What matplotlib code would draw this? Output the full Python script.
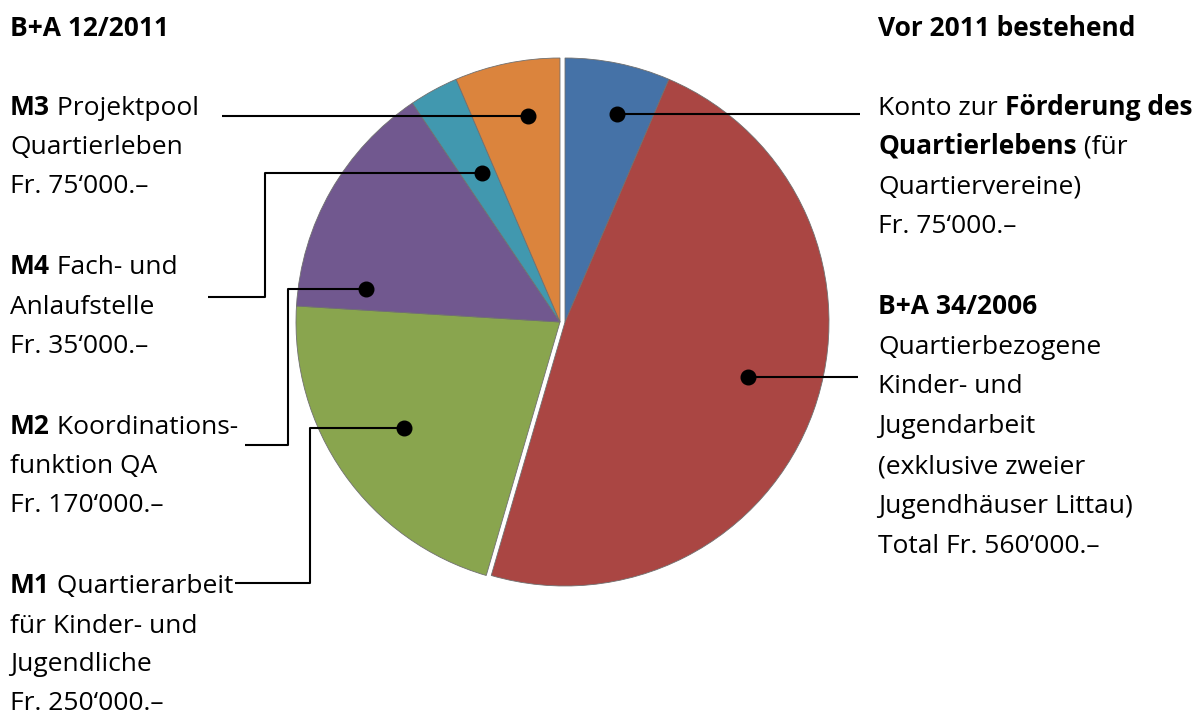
import matplotlib.pyplot as plt

W, H = 1199, 718
plt.rcParams['font.family'] = ['Open Sans', 'DejaVu Sans']
FS = 19

# budget items, clockwise from 12 o'clock
items = ["Konto Förderung Quartierleben", "B+A 34/2006", "M1", "M2", "M4", "M3"]
values = [75000, 560000, 250000, 170000, 35000, 75000]
colors = ["#4572A7", "#AA4643", "#89A54E", "#71588F", "#4198AF", "#DB843D"]
existing = [True, True, False, False, False, False]  # "Vor 2011 bestehend"

# leader lines (pixel coords, y from top), dot at the first point
leaders = [
    [(617, 114), (860, 114)],
    [(748, 377), (858, 377)],
    [(404, 428), (310, 428), (310, 583), (235, 583)],
    [(366, 289), (288, 289), (288, 445), (245, 445)],
    [(482, 173), (265, 173), (265, 297), (208, 297)],
    [(528, 116), (222, 116)],
]

# text lines: x, baseline y (from top), pieces (text, bold)
left_lines = [
    (10, 36, [("B+A 12/2011", True)]),
    (10, 115, [("M3", True), (" Projektpool", False)]),
    (10, 154, [("Quartierleben", False)]),
    (10, 193, [("Fr. 75‘000.–", False)]),
    (10, 274, [("M4", True), (" Fach- und", False)]),
    (10, 314, [("Anlaufstelle", False)]),
    (10, 353, [("Fr. 35‘000.–", False)]),
    (10, 434, [("M2", True), (" Koordinations-", False)]),
    (10, 473, [("funktion QA", False)]),
    (10, 512, [("Fr. 170‘000.–", False)]),
    (10, 593, [("M1", True), (" Quartierarbeit", False)]),
    (10, 633, [("für Kinder- und", False)]),
    (10, 671, [("Jugendliche", False)]),
    (10, 710, [("Fr. 250‘000.–", False)]),
]
right_lines = [
    (878, 36, [("Vor 2011 bestehend", True)]),
    (878, 115, [("Konto zur ", False), ("Förderung des", True)]),
    (878, 154, [("Quartierlebens", True), (" (für", False)]),
    (878, 193, [("Quartiervereine)", False)]),
    (878, 233, [("Fr. 75‘000.–", False)]),
    (878, 314, [("B+A 34/2006", True)]),
    (878, 354, [("Quartierbezogene", False)]),
    (878, 393, [("Kinder- und", False)]),
    (878, 433, [("Jugendarbeit", False)]),
    (878, 473, [("(exklusive zweier", False)]),
    (878, 513, [("Jugendhäuser Littau)", False)]),
    (878, 553, [("Total Fr. 560‘000.–", False)]),
]

fig = plt.figure(figsize=(W / 100, H / 100), dpi=100)
ax = fig.add_axes([0, 0, 1, 1])

wedges, _ = ax.pie(values, colors=colors, startangle=90, counterclock=False,
                   center=(560, H - 322), radius=264,
                   wedgeprops=dict(edgecolor='#707070', linewidth=0.6))
# the existing items are pulled slightly apart from the new ones
for w, ex in zip(wedges, existing):
    if ex:
        w.set_center((565, H - 322))

for pts in leaders:
    xs = [p[0] for p in pts]
    ys = [H - p[1] for p in pts]
    ax.plot(xs, ys, color='black', lw=1.5, zorder=5, solid_capstyle='butt')
    ax.plot(xs[0], ys[0], 'o', color='black', ms=10.5, zorder=6)

for x, y, pieces in left_lines + right_lines:
    prev = None
    for txt, bold in pieces:
        fw = 'bold' if bold else 'normal'
        if prev is None:
            prev = ax.text(x, H - y, txt, fontsize=FS, fontweight=fw,
                           ha='left', va='baseline', color='black')
        else:
            prev = ax.annotate(txt, xy=(1, 0), xycoords=prev, fontsize=FS,
                               fontweight=fw, ha='left', va='bottom',
                               color='black')

ax.set_xlim(0, W)
ax.set_ylim(0, H)
ax.set_aspect('equal')
ax.axis('off')

fig.savefig('out.png', dpi=100, facecolor='white')
